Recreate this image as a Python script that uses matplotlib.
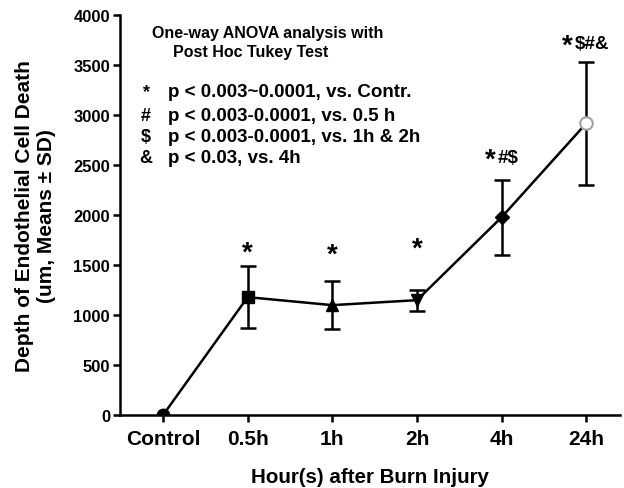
import matplotlib
matplotlib.use("Agg")
import matplotlib.pyplot as plt

plt.rcParams["font.family"] = ["Liberation Sans", "DejaVu Sans"]
plt.rcParams["font.weight"] = "bold"

categories = ["Control", "0.5h", "1h", "2h", "4h", "24h"]
means = [0, 1180, 1100, 1150, 1980, 2920]
sds = [0, 310, 240, 105, 375, 615]
markers = ["o", "s", "^", "v", "D", "o"]
sig_stars = ["", "*", "*", "*", "*", "*"]
sig_suffix = ["", "", "", "", "#$", "$#&"]
sig_heights = [0, 1500, 1480, 1540, 2430, 3570]
legend_symbols = ["*", "#", "$", "&"]
legend_texts = [
    "p < 0.003~0.0001, vs. Contr.",
    "p < 0.003-0.0001, vs. 0.5 h",
    "p < 0.003-0.0001, vs. 1h & 2h",
    "p < 0.03, vs. 4h",
]
legend_rows = [3240, 3000, 2790, 2580]

fig = plt.figure(figsize=(6.24, 4.89), dpi=100)
ax = fig.add_axes([0.192, 0.149, 0.802, 0.818])

x = list(range(len(categories)))
ax.plot(x, means, color="black", lw=1.8, zorder=2)
for i in x:
    if sds[i] > 0:
        ax.errorbar(i, means[i], yerr=sds[i], color="black", lw=1.8,
                    capsize=6, capthick=1.8, zorder=1)
    if i == len(x) - 1:
        ax.plot(i, means[i], marker=markers[i], ms=9, mfc="white",
                mec="#a0a0a0", mew=1.5, zorder=3)
    else:
        ax.plot(i, means[i], marker=markers[i],
                ms=9 if markers[i] != "D" else 7, color="black", zorder=3)

# significance marks
star_shift = [0, 0, 0, 0, -0.13, -0.22]
for i in x:
    if not sig_stars[i]:
        continue
    sx = i + star_shift[i]
    ax.text(sx, sig_heights[i], sig_stars[i], fontsize=20, ha="center",
            va="bottom", fontweight="bold")
    if sig_suffix[i]:
        ax.text(sx + 0.08, sig_heights[i] + 150, sig_suffix[i], fontsize=13.5,
                ha="left", va="center", fontweight="bold")

ax.text(-0.13, 3830, "One-way ANOVA analysis with", fontsize=11.5,
        fontweight="bold", va="center", ha="left")
ax.text(0.118, 3640, "Post Hoc Tukey Test", fontsize=11.5,
        fontweight="bold", va="center", ha="left")
for sym, txt, yy in zip(legend_symbols, legend_texts, legend_rows):
    ax.text(-0.2, yy, sym, fontsize=13, fontweight="bold", va="center",
            ha="center")
    ax.text(0.06, yy, txt, fontsize=13.5, fontweight="bold", va="center",
            ha="left")

ax.set_xlim(-0.51, 5.4)
ax.set_ylim(0, 4000)
ax.set_xticks(x)
ax.set_xticklabels(categories, fontsize=15, fontweight="bold")
ax.set_yticks(range(0, 4001, 500))
ax.tick_params(axis="y", labelsize=12, width=1.8, length=5, pad=2)
ax.tick_params(axis="x", width=1.8, length=5, pad=5)
for lab in ax.get_yticklabels():
    lab.set_fontweight("bold")
ax.spines["top"].set_visible(False)
ax.spines["right"].set_visible(False)
ax.spines["left"].set_linewidth(1.8)
ax.spines["bottom"].set_linewidth(1.8)

ax.set_ylabel("Depth of Endothelial Cell Death\n(um, Means \u00b1 SD)",
              fontsize=15, fontweight="bold")
ax.yaxis.set_label_coords(-0.127, 0.5)
ax.set_xlabel("Hour(s) after Burn Injury", fontsize=14.8, fontweight="bold",
              labelpad=14)

fig.savefig("out.png", dpi=100)
